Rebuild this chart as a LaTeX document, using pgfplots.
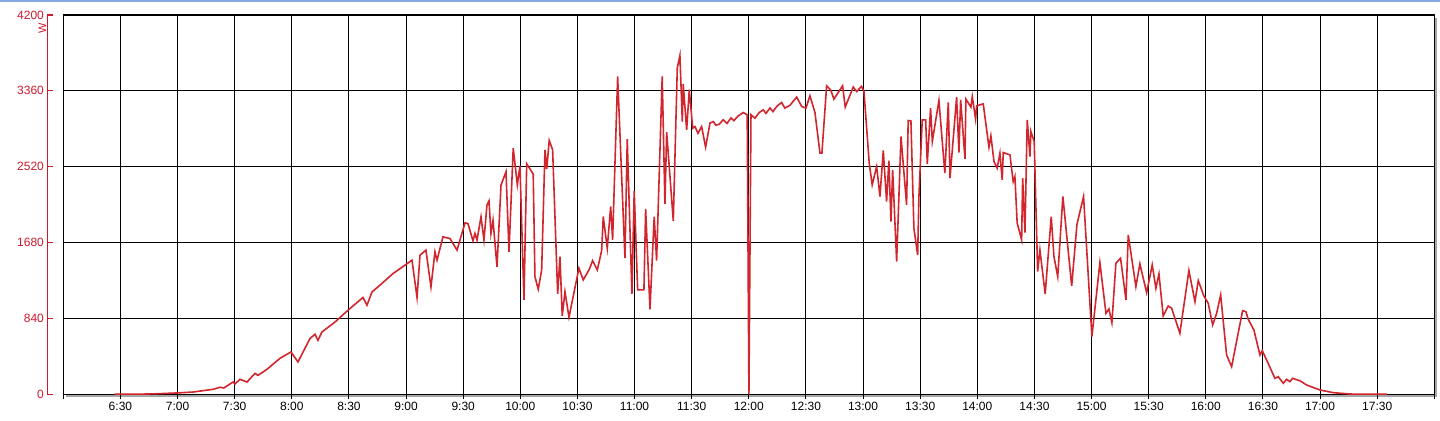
\documentclass[border=0pt]{standalone}
\usepackage{fontspec}
\setmainfont{Liberation Sans}
\usepackage{pgfplots}
\pgfplotsset{compat=1.18}
\usetikzlibrary{shadows}
\definecolor{axred}{RGB}{205,25,45}
\definecolor{linered}{RGB}{210,38,46}
\definecolor{topblue}{RGB}{130,170,225}

\begin{document}
\begin{tikzpicture}
% main frame with grid and time axis
\begin{axis}[name=main,
  scale only axis, width=685.5pt, height=189.65pt,
  xmin=6, xmax=18, ymin=0, ymax=4200,
  xtick={6,6.5,...,18},
  xticklabels={,6:30,7:00,7:30,8:00,8:30,9:00,9:30,10:00,10:30,11:00,11:30,12:00,12:30,13:00,13:30,14:00,14:30,15:00,15:30,16:00,16:30,17:00,17:30,},
  ytick={0,840,...,4200}, yticklabels={},
  grid=major, grid style={black, line width=0.5pt},
  axis line style={black, line width=0.6pt},
  xtick pos=bottom, xtick align=outside, major tick length=2.5pt,
  ytick style={draw=none},
  xtick style={black, line width=0.5pt},
  xticklabel style={font=\fontsize{6}{7}\selectfont, inner sep=1pt},
  axis background/.style={fill=white, drop shadow={shadow xshift=1.3pt, shadow yshift=-1.3pt, fill=black!35, opacity=1}},
]
\addplot[linered, line width=0.8pt] coordinates {
(6.45,0) (6.61,0) (6.80,5) (7.00,15) (7.135,25) (7.31,55) (7.371,78) (7.406,70)
(7.485,136) (7.503,114) (7.546,166) (7.608,136) (7.678,232) (7.704,210) (7.783,277)
(7.897,399) (7.993,469) (8.054,358) (8.159,617) (8.203,665) (8.229,598) (8.264,690)
(8.378,800) (8.492,931) (8.623,1072) (8.658,986) (8.702,1134) (8.754,1189) (8.886,1337)
(8.991,1430) (9.052,1485) (9.096,1072) (9.122,1540) (9.174,1596) (9.218,1189) (9.253,1577)
(9.271,1485) (9.323,1743) (9.384,1725) (9.446,1596) (9.516,1898) (9.542,1890) (9.586,1699)
(9.603,1781) (9.621,1707) (9.656,1965) (9.682,1707) (9.708,2094) (9.726,2142) (9.743,1781)
(9.761,1928) (9.796,1411) (9.831,2316) (9.875,2464) (9.901,1577) (9.938,2726) (9.974,2319)
(9.997,2530) (10.032,1045) (10.056,2552) (10.113,2438) (10.128,1303) (10.157,1163)
(10.187,1377) (10.216,2707) (10.231,2493) (10.253,2810) (10.283,2707) (10.327,1111)
(10.347,1525) (10.367,868) (10.391,1137) (10.426,853) (10.513,1396) (10.551,1266)
(10.604,1385) (10.633,1480) (10.674,1377) (10.712,1591) (10.726,1968) (10.761,1618)
(10.791,2079) (10.808,1710) (10.852,3519) (10.916,1507) (10.936,2825) (10.977,1111)
(10.997,2253) (11.027,1156) (11.082,1156) (11.097,2053) (11.135,942) (11.172,1968)
(11.193,1480) (11.242,3519) (11.266,2108) (11.281,2903) (11.339,1920) (11.374,3612)
(11.397,3752) (11.418,3020) (11.426,3438) (11.456,2928) (11.479,3372) (11.509,2947)
(11.529,2965) (11.555,2890) (11.587,2965) (11.622,2737) (11.660,3003) (11.689,3020)
(11.712,2980) (11.741,2990) (11.776,3040) (11.809,3000) (11.844,3060) (11.870,3030)
(11.905,3080) (11.951,3120) (11.986,3095) (12.001,0) (12.019,3095) (12.054,3058)
(12.091,3120) (12.126,3150) (12.150,3110) (12.185,3170) (12.211,3130) (12.246,3190)
(12.287,3231) (12.316,3169) (12.360,3200) (12.419,3291) (12.463,3187) (12.500,3169)
(12.535,3305) (12.579,3120) (12.623,2670) (12.640,2670) (12.681,3416) (12.716,3372)
(12.745,3269) (12.821,3416) (12.844,3180) (12.914,3402) (12.944,3353) (12.987,3408)
(13.008,3353) (13.054,2560) (13.080,2319) (13.119,2522) (13.148,2190) (13.177,2699)
(13.206,2134) (13.226,2588) (13.244,1912) (13.259,2485) (13.294,1469) (13.332,2854)
(13.381,2097) (13.395,3031) (13.419,3028) (13.445,1839) (13.478,1543) (13.489,2190)
(13.518,3039) (13.548,3039) (13.562,2552) (13.591,3169) (13.606,2799) (13.664,3253)
(13.716,2449) (13.746,3231) (13.761,2393) (13.819,3291) (13.839,2677) (13.854,3261)
(13.892,2607) (13.900,3269) (13.944,3180) (13.956,3297) (13.985,3047) (13.994,3194)
(14.052,3216) (14.076,2984) (14.102,2737) (14.119,2862) (14.146,2577) (14.174,2504)
(14.198,2670) (14.218,2374) (14.227,2677) (14.286,2651) (14.314,2356) (14.329,2411)
(14.349,1895) (14.388,1710) (14.397,2393) (14.417,1791) (14.437,3039) (14.461,2633)
(14.469,2910) (14.498,2799) (14.528,1358) (14.548,1599) (14.594,1111) (14.647,1968)
(14.671,1525) (14.704,1303) (14.749,2190) (14.826,1200) (14.872,1880) (14.930,2190)
(15.003,640) (15.073,1458) (15.126,897) (15.152,945) (15.178,793) (15.213,1451)
(15.254,1507) (15.301,1045) (15.321,1765) (15.388,1192) (15.423,1444) (15.482,1126)
(15.531,1433) (15.563,1174) (15.590,1333) (15.627,868) (15.671,978) (15.701,953)
(15.773,676) (15.852,1370) (15.905,1026) (15.934,1259) (15.983,1089) (16.021,1008)
(16.060,768) (16.095,897) (16.130,1100) (16.182,435) (16.226,306) (16.322,926)
(16.351,915) (16.371,831) (16.421,712) (16.474,435) (16.494,483) (16.532,380)
(16.605,177) (16.634,195) (16.678,122) (16.707,166) (16.736,140) (16.760,177)
(16.824,150) (16.882,103) (16.999,48) (17.115,18) (17.261,3) (17.407,0) (17.585,0)
};
\end{axis}
% detached red power axis: box 8pt wider on the left than the main frame
\begin{axis}[
  at={(main.south east)}, anchor=south east,
  scale only axis, width=693.5pt, height=189.65pt,
  xmin=0, xmax=1, ymin=0, ymax=4200,
  axis x line=none, axis y line*=left,
  xtick=\empty,
  ytick={0,840,...,4200}, ytick align=inside, major tick length=3pt,
  scaled y ticks=false,
  y axis line style={axred, line width=0.6pt},
  ytick style={axred, line width=0.6pt},
  yticklabel style={text=axred, font=\fontsize{6}{7}\selectfont, inner sep=1.5pt,
    /pgf/number format/assume math mode=true, /pgf/number format/1000 sep={}},
  ylabel={W},
  ylabel style={at={(rel axis cs:0,0.966)}, anchor=south, inner sep=0.4pt,
    text=axred, font=\fontsize{5.5}{6}\selectfont},
]
\end{axis}
\fill[topblue] ([shift={(-31.65pt,7.5pt)}]main.north west) rectangle ([shift={(2.85pt,6.7pt)}]main.north east);
\pgfresetboundingbox
\path ([shift={(-31.65pt,-13.35pt)}]main.south west) rectangle ([shift={(2.85pt,7.5pt)}]main.north east);
\end{tikzpicture}
\end{document}
